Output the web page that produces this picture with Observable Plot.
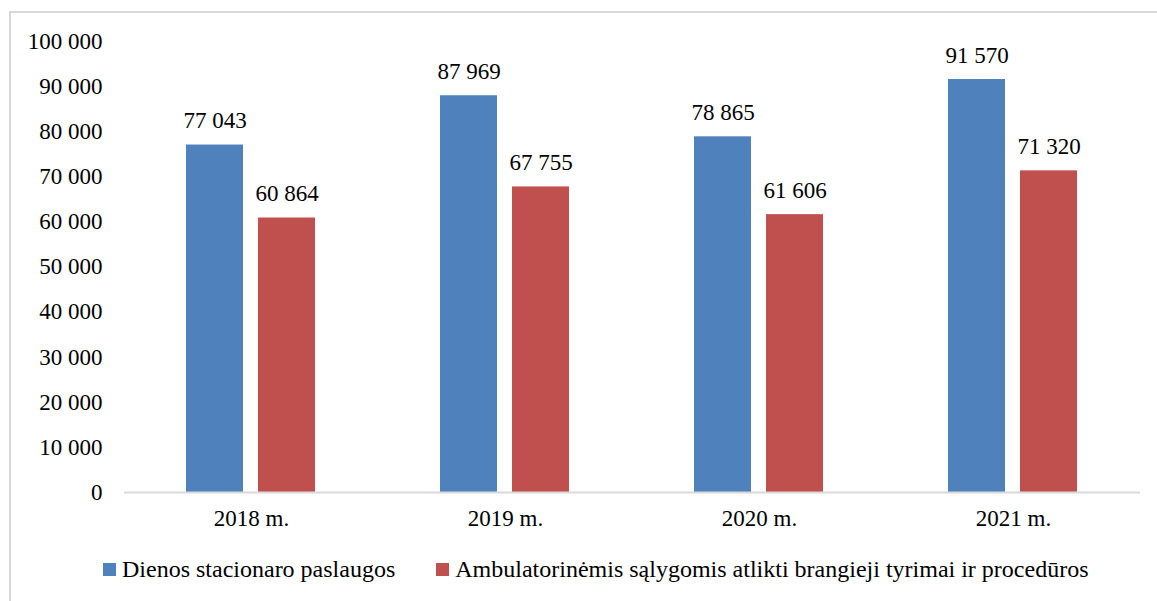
<!DOCTYPE html>
<html>
<head>
<meta charset="utf-8">
<script src="https://cdn.jsdelivr.net/npm/d3@7"></script>
<script src="https://cdn.jsdelivr.net/npm/@observablehq/plot@0.6"></script>
<style>
  html, body { margin: 0; padding: 0; background: #fff; }
  body { width: 1157px; height: 601px; position: relative; overflow: hidden; font-family: "Liberation Serif", "Times New Roman", serif; }
  #frame { position: absolute; left: 9px; top: 11px; width: 1170px; height: 620px; border: 2px solid #d9d9d9; box-sizing: border-box; }
  #chart { position: absolute; left: 0; top: 0; }
  #legend { position: absolute; top: 556px; left: 103px; display: flex; align-items: center; color: #000; white-space: nowrap; font-size: 24px; }
  .sw { display: inline-block; width: 13px; height: 13px; margin-right: 6px; }
  .item { display: flex; align-items: center; }
</style>
</head>
<body>
<div id="frame"></div>
<div id="chart"></div>
<div id="legend"></div>
<script>
const years = ["2018 m.", "2019 m.", "2020 m.", "2021 m."];
const seriesNames = ["Dienos stacionaro paslaugos", "Ambulatorinėmis sąlygomis atlikti brangieji tyrimai ir procedūros"];
const dienos = [77043, 87969, 78865, 91570];
const ambulatorines = [60864, 67755, 61606, 71320];
const colors = ["#4f81bd", "#c0504d"];
const yTicks = [0, 10000, 20000, 30000, 40000, 50000, 60000, 70000, 80000, 90000, 100000];

const fam = '"Liberation Serif", "Times New Roman", serif';
const fs = 23;

const data = [];
years.forEach((y, i) => {
  data.push({year: y, series: seriesNames[0], value: dienos[i]});
  data.push({year: y, series: seriesNames[1], value: ambulatorines[i]});
});

const loc = d3.formatLocale({decimal: ",", thousands: " ", grouping: [3], currency: ["", ""]});
const fmt = loc.format(",d");

const H = 545;
const chart = Plot.plot({
  width: 1157,
  height: H,
  marginTop: 41,
  marginBottom: H - 492,
  marginLeft: 124,
  marginRight: 17,
  style: {fontFamily: fam, fontSize: fs + "px", color: "#000", background: "transparent"},
  fx: {domain: years, padding: 0, label: null},
  x: {domain: seriesNames, paddingInner: 0.208, paddingOuter: 0.866, axis: null},
  y: {domain: [0, 100000], label: null},
  color: {domain: seriesNames, range: colors},
  marks: [
    Plot.barY(data, {fx: "year", x: "series", y: "value", fill: "series"}),
    Plot.ruleY([0], {stroke: "#d9d9d9", strokeWidth: 2}),
    Plot.text(data, {fx: "year", x: "series", y: "value", text: d => fmt(d.value), dy: -24, fontSize: fs, fill: "#000"}),
    Plot.axisY({ticks: yTicks, tickSize: 0, tickPadding: 22, tickFormat: fmt, fontSize: fs, label: null}),
    Plot.axisFx({anchor: "bottom", tickSize: 0, tickPadding: 17, fontSize: fs, label: null})
  ]
});
document.getElementById("chart").appendChild(chart);

const legend = document.getElementById("legend");
seriesNames.forEach((s, i) => {
  const it = document.createElement("div");
  it.className = "item";
  if (i > 0) it.style.marginLeft = "41px";
  const sw = document.createElement("span");
  sw.className = "sw";
  sw.style.background = colors[i];
  const t = document.createElement("span");
  t.textContent = s;
  it.appendChild(sw);
  it.appendChild(t);
  legend.appendChild(it);
});
</script>
</body>
</html>
